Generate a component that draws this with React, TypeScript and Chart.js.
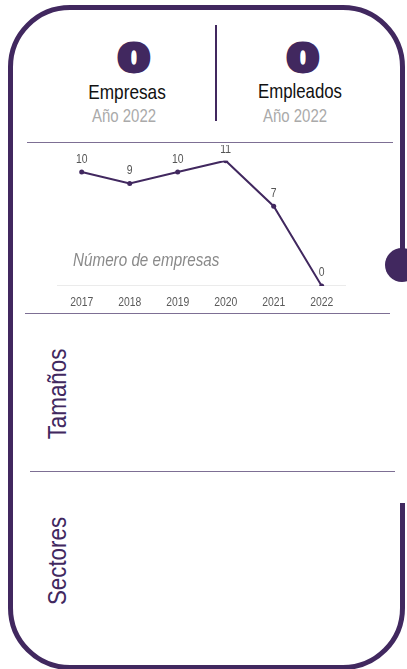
import React, { useEffect, useRef } from "react";
import { Chart, registerables } from "chart.js";

Chart.register(...registerables);

// ---- data ----
const years = ["2017", "2018", "2019", "2020", "2021", "2022"];
const empresasPorAno = [10, 9, 10, 11, 7, 0];
const totalEmpresas = 0;
const totalEmpleados = 0;
const yearLabel = "Año 2022";
const kpiLabels = ["Empresas", "Empleados"];
const chartCaption = "Número de empresas";
const sectionLabels = ["Tamaños", "Sectores"];

// ---- styles ----
const PURPLE = "#41285f";
const LINE = "#7d6f94";
const SANS = "'Liberation Sans', Arial, sans-serif";
const BOLD = "'DejaVu Sans', sans-serif";
const CANVAS_CONDENSE = 0.8;

// Draw all canvas text horizontally condensed (narrow typeface look)
const condensePlugin = {
  id: "condenseText",
  beforeInit(chart: any) {
    const ctx = chart.ctx;
    const orig = ctx.fillText.bind(ctx);
    ctx.fillText = (text: string, x: number, y: number, maxWidth?: number) => {
      ctx.save();
      ctx.translate(x, y);
      ctx.scale(CANVAS_CONDENSE, 1);
      if (maxWidth === undefined) orig(text, 0, 0);
      else orig(text, 0, 0, maxWidth / CANVAS_CONDENSE);
      ctx.restore();
    };
  },
};

const labelPlugin = {
  id: "pointValueLabels",
  afterDatasetsDraw(chart: any) {
    const ctx = chart.ctx;
    const meta = chart.getDatasetMeta(0);
    const data = chart.data.datasets[0].data as number[];
    ctx.save();
    ctx.font = `13px ${SANS}`;
    ctx.fillStyle = "#555555";
    ctx.textAlign = "center";
    ctx.textBaseline = "middle";
    meta.data.forEach((pt: any, i: number) => {
      const y = Math.max(pt.y - 13, chart.chartArea.top - 11);
      ctx.fillText(String(data[i]), pt.x, y);
    });
    ctx.restore();
  },
};

function LineChart() {
  const ref = useRef<HTMLCanvasElement | null>(null);
  useEffect(() => {
    if (!ref.current) return;
    const chart = new Chart(ref.current, {
      type: "line",
      data: {
        labels: years,
        datasets: [
          {
            data: empresasPorAno,
            borderColor: PURPLE,
            backgroundColor: PURPLE,
            borderWidth: 2,
            pointRadius: 2.5,
            pointBackgroundColor: PURPLE,
            pointBorderWidth: 0,
            tension: 0,
            fill: false,
          },
        ],
      },
      options: {
        responsive: false,
        animation: false,
        layout: { padding: { left: 17.7, right: 24.3, top: 15.7, bottom: 1.9 } },
        plugins: {
          legend: { display: false },
          tooltip: { enabled: false },
          title: { display: false },
        },
        scales: {
          x: {
            offset: true,
            grid: { display: false, drawTicks: false },
            border: { display: true, color: "#ebebeb", width: 1 },
            ticks: {
              color: "#5a5a5a",
              font: { family: SANS, size: 13 },
              padding: 8.3,
              maxRotation: 0,
              autoSkip: false,
            },
          },
          y: { display: false, min: 0, max: 11 },
        },
      },
      plugins: [condensePlugin, labelPlugin],
    } as any);
    return () => chart.destroy();
  }, []);
  return (
    <canvas
      ref={ref}
      width={330}
      height={175}
      style={{ position: "absolute", left: 40, top: 145, width: 330, height: 175 }}
    />
  );
}

function Text(props: {
  children: React.ReactNode;
  cx: number;
  baseline: number;
  size: number;
  color: string;
  family: string;
  weight?: number | string;
  italic?: boolean;
  align?: "center" | "left";
  sx?: number;
  stroke?: number;
}) {
  const top = props.baseline - 0.846 * props.size;
  const center = props.align !== "left";
  const sx = props.sx ?? 1;
  return (
    <div
      style={{
        position: "absolute",
        left: props.cx,
        top,
        fontFamily: props.family,
        fontSize: props.size,
        lineHeight: `${props.size}px`,
        color: props.color,
        fontWeight: props.weight ?? 400,
        fontStyle: props.italic ? "italic" : "normal",
        whiteSpace: "nowrap",
        transformOrigin: center ? "50% 50%" : "0% 50%",
        transform: `${center ? "translateX(-50%) " : ""}scaleX(${sx})`,
        WebkitTextStroke: props.stroke ? `${props.stroke}px ${props.color}` : undefined,
      }}
    >
      {props.children}
    </div>
  );
}

function VText(props: { children: React.ReactNode; cx: number; cy: number; size: number; sx: number }) {
  return (
    <div
      style={{
        position: "absolute",
        left: props.cx,
        top: props.cy,
        fontFamily: SANS,
        fontSize: props.size,
        lineHeight: `${props.size}px`,
        color: PURPLE,
        whiteSpace: "nowrap",
        transform: `translate(-50%, -50%) rotate(-90deg) scaleX(${props.sx})`,
      }}
    >
      {props.children}
    </div>
  );
}

function HLine(props: { x1: number; x2: number; y: number }) {
  return (
    <div
      style={{
        position: "absolute",
        left: props.x1,
        top: props.y,
        width: props.x2 - props.x1,
        height: 1,
        background: LINE,
      }}
    />
  );
}

export default function App() {
  return (
    <div
      style={{
        position: "absolute",
        left: 0,
        top: 0,
        width: 407,
        height: 669,
        overflow: "hidden",
        background: "#ffffff",
      }}
    >
      {/* frame */}
      <div
        style={{
          position: "absolute",
          left: 8,
          top: 5,
          width: 397,
          height: 665,
          boxSizing: "border-box",
          border: `5px solid ${PURPLE}`,
          borderRadius: 62,
        }}
      />
      {/* gap in right border */}
      <div style={{ position: "absolute", left: 396, top: 280, width: 14, height: 223, background: "#ffffff" }} />
      {/* knob */}
      <div
        style={{
          position: "absolute",
          left: 385,
          top: 248,
          width: 34,
          height: 34,
          borderRadius: "50%",
          background: PURPLE,
        }}
      />

      {/* KPI block */}
      <Text cx={134} baseline={70.8} size={38} color={PURPLE} family={BOLD} weight={700} sx={1.22} stroke={4}>
        {totalEmpresas}
      </Text>
      <Text cx={302.5} baseline={70.8} size={38} color={PURPLE} family={BOLD} weight={700} sx={1.22} stroke={4}>
        {totalEmpleados}
      </Text>
      <Text cx={127} baseline={98.3} size={21} color="#111111" family={SANS} sx={0.82}>
        {kpiLabels[0]}
      </Text>
      <Text cx={300} baseline={98} size={21} color="#111111" family={SANS} sx={0.8}>
        {kpiLabels[1]}
      </Text>
      <Text cx={124} baseline={122.7} size={18.5} color="#aaaaaa" family={SANS} sx={0.81}>
        {yearLabel}
      </Text>
      <Text cx={295} baseline={122.7} size={18.5} color="#aaaaaa" family={SANS} sx={0.81}>
        {yearLabel}
      </Text>
      <div style={{ position: "absolute", left: 215, top: 25, width: 1.5, height: 96, background: PURPLE }} />

      <HLine x1={27} x2={393} y={142} />

      <LineChart />
      <Text cx={73} baseline={267.3} size={17.5} color="#8a8a8a" family={SANS} italic align="left" sx={0.87}>
        {chartCaption}
      </Text>

      <HLine x1={25} x2={390} y={313} />
      <VText cx={57.5} cy={393.5} size={25.7} sx={0.87}>
        {sectionLabels[0]}
      </VText>

      <HLine x1={30} x2={395} y={471} />
      <VText cx={57.5} cy={561} size={25.7} sx={0.87}>
        {sectionLabels[1]}
      </VText>
    </div>
  );
}
